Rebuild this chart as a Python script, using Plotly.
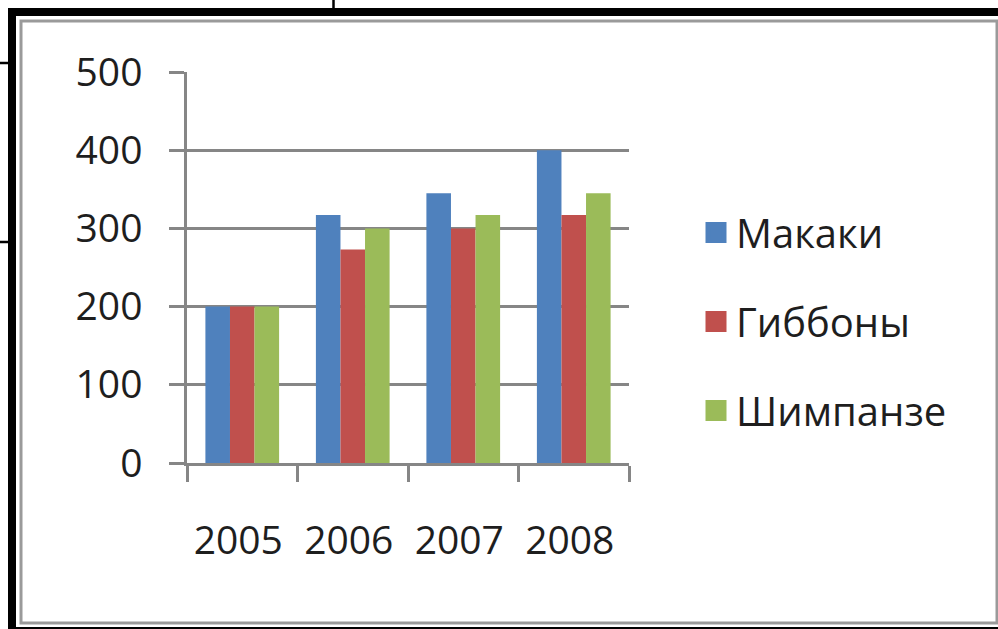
import plotly.graph_objects as go

# Chart data
years = ["2005", "2006", "2007", "2008"]
series_names = ["Макаки", "Гиббоны", "Шимпанзе"]
makaki = [200, 317, 345, 400]
gibbony = [200, 273, 300, 317]
shimpanze = [200, 300, 317, 345]
series_values = [makaki, gibbony, shimpanze]
series_colors = ["#4F81BD", "#C0504D", "#9BBB59"]
y_ticks = [0, 100, 200, 300, 400, 500]

W, H = 998, 629
# plot area edges in page pixels
PL, PR, PT, PB = 187, 629, 72, 463


def px(x):
    return (x - PL) / (PR - PL)


def py(y):
    return (PB - y) / (PB - PT)


FONT = "Open Sans"
GRID = "#868686"
TEXT = "#1e1e1e"

fig = go.Figure()

for name, vals, col in zip(series_names, series_values, series_colors):
    fig.add_trace(go.Bar(
        x=years, y=vals, name=name, marker=dict(color=col, line=dict(width=0)),
        legendgroup=name, showlegend=False,
    ))
    # legend entry with a larger square swatch
    fig.add_trace(go.Scatter(
        x=[None], y=[None], mode="markers", name=name, legendgroup=name,
        marker=dict(symbol="square", size=16, color=col, line=dict(color=col, width=8)),
        showlegend=True,
    ))

shapes = []
# outer black frame
shapes.append(dict(type="rect", xref="paper", yref="paper",
                   x0=px(12), x1=px(1012), y0=py(12), y1=py(631),
                   line=dict(color="black", width=8), fillcolor="rgba(0,0,0,0)", layer="above"))
# inner grey chart-area border
shapes.append(dict(type="rect", xref="paper", yref="paper",
                   x0=px(21), x1=px(997), y0=py(21), y1=py(623),
                   line=dict(color="#9a9a9a", width=3), fillcolor="rgba(0,0,0,0)", layer="above"))
# small connector strokes outside the frame
shapes.append(dict(type="line", xref="paper", yref="paper",
                   x0=px(333.5), x1=px(333.5), y0=py(0), y1=py(9),
                   line=dict(color="black", width=2.5), layer="above"))
for yy in (63, 242):
    shapes.append(dict(type="line", xref="paper", yref="paper",
                       x0=px(0), x1=px(9), y0=py(yy), y1=py(yy),
                       line=dict(color="black", width=2.5), layer="above"))

fig.update_layout(
    width=W, height=H,
    margin=dict(l=PL, r=W - PR, t=PT, b=H - PB, pad=0),
    paper_bgcolor="white", plot_bgcolor="white",
    barmode="group", bargap=0.333, bargroupgap=0,
    font=dict(family=FONT, size=39, color=TEXT),
    showlegend=True,
    legend=dict(
        x=px(696), y=py(200), xanchor="left", yanchor="top",
        font=dict(family=FONT, size=40, color=TEXT),
        traceorder="grouped", tracegroupgap=34,
        bgcolor="rgba(0,0,0,0)", borderwidth=0,
    ),
    shapes=shapes,
    xaxis=dict(
        type="category", tickson="boundaries", ticks="outside", ticklen=16,
        tickwidth=2.5, tickcolor=GRID, showline=True, linecolor=GRID, linewidth=2.5,
        showgrid=False, ticklabelstandoff=41, ticklabelshift=-4,
        tickfont=dict(family=FONT, size=39, color=TEXT),
    ),
    yaxis=dict(
        range=[0, 500], tickvals=y_ticks, ticks="outside", ticklen=15,
        tickwidth=2.5, tickcolor=GRID, showline=True, linecolor=GRID, linewidth=2.5,
        showgrid=True, gridcolor=GRID, gridwidth=2.5, zeroline=False,
        ticklabelstandoff=19,
        tickfont=dict(family=FONT, size=39, color=TEXT),
    ),
)

fig.write_html("out.html")
